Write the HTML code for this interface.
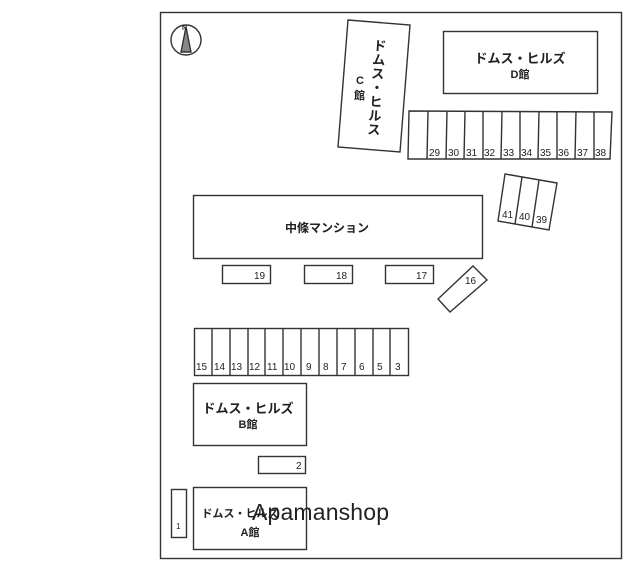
<!DOCTYPE html>
<html><head><meta charset="utf-8"><style>
html,body{margin:0;padding:0;background:#fff;}
svg{display:block;}
text{font-family:"Liberation Sans","Noto Sans CJK JP",sans-serif;fill:#222;}
.b{font-weight:bold;font-size:13px;}
.n{font-size:10px;}
</style></head><body>
<svg width="640" height="572" viewBox="0 0 640 572" xmlns="http://www.w3.org/2000/svg">
<g fill="none" stroke="#333" stroke-width="1.4">
<rect x="160.5" y="12.5" width="461" height="546"/>
<circle cx="186" cy="40" r="15"/>
<polygon points="186,27 181,52 191,52" fill="#888"/>
<polygon points="348,20 410,25 400,152 338,147"/>
<rect x="443.5" y="31.5" width="154" height="62"/>
<polygon points="409,111 612,112 610,159 408,159"/>
<line x1="428" y1="111" x2="427" y2="159"/><line x1="447" y1="111" x2="446" y2="159"/>
<line x1="465" y1="111" x2="464" y2="159"/><line x1="483" y1="111" x2="483" y2="159"/>
<line x1="502" y1="111" x2="501" y2="159"/><line x1="520" y1="111" x2="520" y2="159"/>
<line x1="539" y1="111" x2="538" y2="159"/><line x1="557" y1="111" x2="557" y2="159"/>
<line x1="576" y1="111" x2="575" y2="159"/><line x1="594" y1="112" x2="594" y2="159"/>
<polygon points="505,174 557,183 549,230 498,221"/>
<line x1="522" y1="177" x2="515" y2="224"/><line x1="539" y1="180" x2="532" y2="227"/>
<rect x="193.5" y="195.5" width="289" height="63"/>
<rect x="222.5" y="265.5" width="48" height="18"/>
<rect x="304.5" y="265.5" width="48" height="18"/>
<rect x="385.5" y="265.5" width="48" height="18"/>
<polygon points="473,266 487,280 450,312 438,299"/>
<rect x="194.5" y="328.5" width="214" height="47"/>
<line x1="212" y1="328" x2="212" y2="375"/><line x1="230" y1="328" x2="230" y2="375"/>
<line x1="248" y1="328" x2="248" y2="375"/><line x1="265" y1="328" x2="265" y2="375"/>
<line x1="283" y1="328" x2="283" y2="375"/><line x1="301" y1="328" x2="301" y2="375"/>
<line x1="319" y1="328" x2="319" y2="375"/><line x1="337" y1="328" x2="337" y2="375"/>
<line x1="355" y1="328" x2="355" y2="375"/><line x1="373" y1="328" x2="373" y2="375"/>
<line x1="390" y1="328" x2="390" y2="375"/>
<rect x="193.5" y="383.5" width="113" height="62"/>
<rect x="258.5" y="456.5" width="47" height="17"/>
<rect x="193.5" y="487.5" width="113" height="62"/>
<rect x="171.5" y="489.5" width="15" height="48"/>
</g>
<text x="182" y="30" font-size="7" font-weight="bold">N</text>
<g class="b">
<g transform="translate(373,50) rotate(4)">
<text x="0" y="0">ド</text><text x="0" y="14">ム</text><text x="0" y="28">ス</text>
<text x="0" y="42">・</text><text x="0" y="56">ヒ</text><text x="0" y="70">ル</text><text x="0" y="84">ス</text>
</g>
<text x="356" y="84" font-size="11">C</text>
<text x="354" y="99" font-size="11">館</text>
<text x="520" y="63" text-anchor="middle">ドムス・ヒルズ</text>
<text x="520" y="78" text-anchor="middle" font-size="11">D館</text>
<text x="327" y="232" text-anchor="middle" font-size="12">中條マンション</text>
<text x="248" y="413" text-anchor="middle">ドムス・ヒルズ</text>
<text x="248" y="428" text-anchor="middle" font-size="11">B館</text>
<text x="240" y="517" text-anchor="middle" fill="#999" font-size="11">ドムス・ヒルズ</text>
<text x="250" y="536" text-anchor="middle" font-size="11">A館</text>
</g>
<g class="n">
<text x="429" y="156">29</text><text x="448" y="156">30</text><text x="466" y="156">31</text>
<text x="484" y="156">32</text><text x="503" y="156">33</text><text x="521" y="156">34</text>
<text x="540" y="156">35</text><text x="558" y="156">36</text><text x="577" y="156">37</text><text x="595" y="156">38</text>
<text x="502" y="218">41</text><text x="519" y="220">40</text><text x="536" y="223">39</text>
<text x="254" y="279">19</text><text x="336" y="279">18</text><text x="416" y="279">17</text>
<text x="465" y="284">16</text>
<text x="196" y="370">15</text><text x="214" y="370">14</text><text x="231" y="370">13</text>
<text x="249" y="370">12</text><text x="267" y="370">11</text><text x="284" y="370">10</text>
<text x="306" y="370">9</text><text x="323" y="370">8</text><text x="341" y="370">7</text>
<text x="359" y="370">6</text><text x="377" y="370">5</text><text x="395" y="370">3</text>
<text x="296" y="469">2</text>
<text x="176" y="529" font-size="8">1</text>
</g>
<text x="252" y="520" font-size="23" fill="#777" textLength="137" style="font-family:'Liberation Sans',sans-serif">Apamanshop</text>
</svg>
</body></html>
